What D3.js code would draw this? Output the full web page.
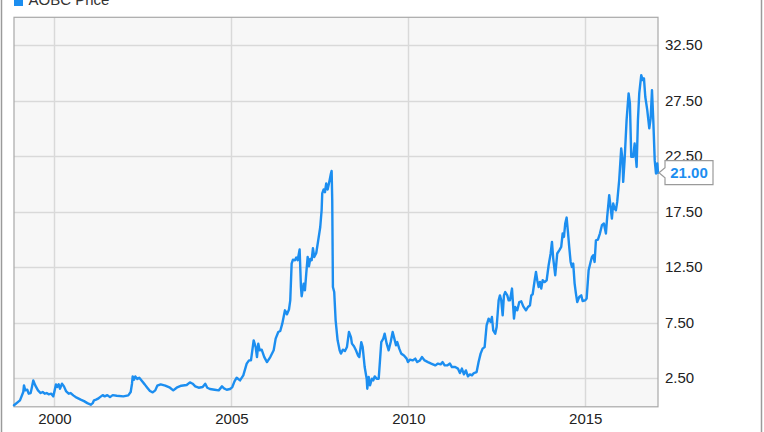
<!DOCTYPE html>
<html><head><meta charset="utf-8">
<script src="https://cdn.jsdelivr.net/npm/d3@7"></script>
<style>
html,body{margin:0;padding:0;background:#fff;}
svg{display:block;font-family:"Liberation Sans",Arial,sans-serif;}
</style></head>
<body>
<svg id="chart" width="764" height="432"></svg>
<script>
// Decimal-year dates and AOBC closing prices (USD)
const years = [1998.856,1999.025,1999.118,1999.138,1999.175,1999.231,1999.271,1999.327,1999.364,1999.401,1999.457,1999.534,1999.610,1999.667,1999.723,1999.780,1999.836,1999.910,1999.966,2000.006,2000.042,2000.079,2000.119,2000.155,2000.212,2000.268,2000.325,2000.401,2000.458,2000.531,2000.627,2000.740,2000.834,2000.927,2001.023,2001.079,2001.116,2001.173,2001.229,2001.286,2001.362,2001.418,2001.492,2001.568,2001.645,2001.758,2001.944,2002.085,2002.153,2002.190,2002.210,2002.246,2002.283,2002.340,2002.396,2002.472,2002.549,2002.622,2002.698,2002.775,2002.848,2002.905,2003.001,2003.131,2003.264,2003.357,2003.453,2003.583,2003.736,2003.829,2003.905,2003.979,2004.075,2004.188,2004.261,2004.318,2004.394,2004.527,2004.640,2004.733,2004.790,2004.866,2004.959,2005.024,2005.086,2005.148,2005.242,2005.335,2005.431,2005.496,2005.552,2005.628,2005.685,2005.722,2005.759,2005.798,2005.855,2005.928,2006.005,2006.098,2006.194,2006.250,2006.324,2006.380,2006.437,2006.513,2006.570,2006.626,2006.663,2006.702,2006.739,2006.796,2006.832,2006.872,2006.928,2006.965,2006.985,2007.041,2007.078,2007.115,2007.155,2007.191,2007.228,2007.268,2007.304,2007.341,2007.398,2007.454,2007.511,2007.550,2007.567,2007.607,2007.644,2007.680,2007.720,2007.776,2007.813,2007.833,2007.850,2007.869,2007.906,2007.946,2008.002,2008.059,2008.095,2008.152,2008.209,2008.265,2008.322,2008.378,2008.406,2008.463,2008.519,2008.576,2008.613,2008.669,2008.709,2008.765,2008.822,2008.839,2008.878,2008.915,2008.971,2009.008,2009.048,2009.104,2009.161,2009.198,2009.234,2009.291,2009.330,2009.387,2009.443,2009.500,2009.556,2009.593,2009.650,2009.686,2009.743,2009.799,2009.876,2009.952,2009.989,2010.045,2010.121,2010.195,2010.251,2010.327,2010.384,2010.460,2010.554,2010.647,2010.760,2010.836,2010.913,2010.969,2011.026,2011.099,2011.175,2011.232,2011.325,2011.401,2011.458,2011.514,2011.571,2011.627,2011.684,2011.740,2011.797,2011.853,2011.930,2011.986,2012.043,2012.099,2012.156,2012.212,2012.269,2012.325,2012.362,2012.399,2012.455,2012.495,2012.552,2012.588,2012.625,2012.665,2012.701,2012.738,2012.795,2012.834,2012.871,2012.928,2012.984,2013.021,2013.077,2013.134,2013.190,2013.247,2013.323,2013.379,2013.436,2013.473,2013.512,2013.569,2013.606,2013.642,2013.682,2013.719,2013.755,2013.795,2013.851,2013.908,2013.964,2014.021,2014.058,2014.094,2014.151,2014.207,2014.264,2014.320,2014.360,2014.397,2014.433,2014.473,2014.510,2014.546,2014.586,2014.623,2014.659,2014.699,2014.736,2014.773,2014.829,2014.886,2014.925,2014.999,2015.038,2015.095,2015.151,2015.188,2015.225,2015.264,2015.301,2015.358,2015.414,2015.471,2015.527,2015.584,2015.620,2015.677,2015.716,2015.753,2015.790,2015.829,2015.866,2015.903,2015.959,2016.016,2016.055,2016.072,2016.112,2016.168,2016.225,2016.262,2016.299,2016.355,2016.395,2016.451,2016.488,2016.525,2016.581,2016.621,2016.658,2016.695,2016.751,2016.808,2016.847,2016.884,2016.921,2016.961,2016.997,2017.034,2017.054];
const prices = [0.05,0.49,1.24,1.84,1.39,1.45,1.09,1.15,1.69,2.29,1.84,1.39,1.15,1.24,1.09,1.15,1.03,1.09,0.85,1.39,1.93,1.69,1.93,1.54,1.99,1.75,1.33,1.09,1.15,0.94,0.73,0.55,0.42,0.24,0.10,0.24,0.49,0.55,0.64,0.78,0.96,0.85,0.96,0.78,0.96,0.91,0.85,0.94,1.24,1.99,2.65,2.35,2.65,2.41,2.53,2.23,1.93,1.63,1.33,1.21,1.39,1.81,1.93,1.81,1.63,1.39,1.63,1.81,1.87,2.11,1.99,1.75,1.63,1.69,1.99,1.63,1.51,1.45,1.39,1.75,1.57,1.45,1.51,1.69,2.20,2.53,2.29,2.74,3.80,4.09,4.09,5.89,5.29,4.39,5.60,5.00,5.06,4.39,3.94,4.39,5.00,6.05,6.65,6.74,7.40,8.60,8.24,8.67,9.50,12.81,13.17,13.11,13.35,13.11,14.08,10.70,9.87,11.01,10.41,11.91,13.41,12.57,13.23,13.11,14.19,13.41,13.77,14.91,16.11,17.62,19.13,19.49,19.24,20.03,19.49,20.32,20.93,21.16,18.52,10.70,10.25,7.70,5.90,5.00,4.70,5.06,4.93,5.29,6.65,6.19,5.60,5.36,5.00,4.54,4.39,5.74,5.29,3.49,2.44,1.54,2.59,1.84,2.44,2.29,2.65,2.44,2.44,4.09,5.74,6.05,6.50,5.60,5.00,5.74,6.65,6.19,5.45,5.74,5.15,4.70,4.54,4.25,3.94,4.16,4.09,4.25,3.94,4.09,4.39,4.09,3.94,3.80,3.64,3.80,3.73,3.94,3.64,3.64,3.80,3.49,3.49,3.35,2.95,3.35,2.83,3.19,2.65,2.83,2.74,2.95,3.04,3.94,4.70,5.15,5.29,7.25,7.85,7.55,8.00,6.80,6.50,7.10,9.50,9.95,9.50,8.15,9.95,10.25,9.95,9.50,9.50,10.56,7.85,8.90,8.60,9.35,9.41,8.96,8.60,8.90,9.05,9.95,10.05,11.31,12.06,11.31,10.70,11.15,10.56,11.31,11.15,11.31,12.66,13.72,14.76,13.26,11.76,13.72,14.01,14.31,15.52,15.21,16.42,16.96,15.66,14.31,12.96,12.51,12.81,11.01,10.11,9.35,9.80,9.95,9.44,9.50,9.66,12.21,12.96,13.41,13.56,12.96,14.91,14.98,15.52,16.27,16.42,15.52,17.02,18.97,17.92,16.87,18.22,17.77,17.62,18.37,20.32,23.18,22.13,20.17,22.13,25.74,28.14,27.24,22.43,22.43,23.63,21.52,25.74,28.14,29.79,29.34,29.50,27.84,26.64,24.99,25.89,28.44,25.74,22.13,20.93,21.83,21.00];
const xTickYears = [2000, 2005, 2010, 2015];
const yTicks = [2.5, 7.5, 12.5, 17.5, 22.5, 27.5, 32.5];
const yDomain = [0, 35];
const seriesName = "AOBC Price";
const lastLabel = "21.00";

function decToDate(y){
  const yr = Math.floor(y);
  const s = Date.UTC(yr,0,1), e = Date.UTC(yr+1,0,1);
  return new Date(s + (y - yr) * (e - s));
}
const data = years.map((y,i)=>({date: decToDate(y), value: prices[i]}));

const svg = d3.select("#chart");
const L = 14, R = 658, T = 17.3, B = 405.8;
const blue = "#1c8ef0";

const x = d3.scaleUtc().domain(d3.extent(data, d=>d.date)).range([L, R]);
const y = d3.scaleLinear().domain(yDomain).range([B, T]);

// outer frame lines
svg.append("line").attr("x1",1.5).attr("x2",1.5).attr("y1",0).attr("y2",432).attr("stroke","#9a9a9a").attr("stroke-width",1.5);
svg.append("line").attr("x1",761.5).attr("x2",761.5).attr("y1",0).attr("y2",432).attr("stroke","#9a9a9a").attr("stroke-width",1.5);

// plot background
svg.append("rect").attr("x",L).attr("y",T).attr("width",R-L).attr("height",B-T+1)
  .attr("fill","#f7f7f7");

// gridlines
const xTickDates = xTickYears.map(yr=>new Date(Date.UTC(yr,0,1)));
svg.append("g").selectAll("line").data(yTicks).join("line")
  .attr("x1",L).attr("x2",R).attr("y1",d=>Math.round(y(d))+0.5).attr("y2",d=>Math.round(y(d))+0.5)
  .attr("stroke","#d9d9d9").attr("stroke-width",1.5);
svg.append("g").selectAll("line").data(xTickDates).join("line")
  .attr("y1",T).attr("y2",B+1).attr("x1",d=>Math.round(x(d))+0.5).attr("x2",d=>Math.round(x(d))+0.5)
  .attr("stroke","#d9d9d9").attr("stroke-width",1.5);

// border
svg.append("rect").attr("x",L).attr("y",T).attr("width",R-L).attr("height",B-T+1)
  .attr("fill","none").attr("stroke","#a8a8a8").attr("stroke-width",1.2);

// line
const line = d3.line().x(d=>x(d.date)).y(d=>y(d.value));
svg.append("path").datum(data).attr("d",line)
  .attr("fill","none").attr("stroke",blue).attr("stroke-width",2.4)
  .attr("stroke-linejoin","round").attr("stroke-linecap","round");

// axes
const yAxis = d3.axisRight(y).tickValues(yTicks).tickFormat(d3.format(".2f")).tickSize(0).tickPadding(7);
const gy = svg.append("g").attr("transform",`translate(${R},0)`).call(yAxis);
gy.select(".domain").remove();
gy.selectAll("text").attr("font-size",15).attr("fill","#222").attr("font-family","Liberation Sans, Arial, sans-serif");

const xAxis = d3.axisBottom(x).tickValues(xTickDates).tickFormat(d3.utcFormat("%Y")).tickSize(0).tickPadding(8);
const gx = svg.append("g").attr("transform",`translate(0,${B})`).call(xAxis);
gx.select(".domain").remove();
gx.selectAll("text").attr("font-size",15).attr("fill","#222").attr("font-family","Liberation Sans, Arial, sans-serif");

// last value callout
const last = data[data.length-1];
const ly = y(last.value), lx = x(last.date);
const bx = lx + 7, bw = 48, bh = 24;
svg.append("path")
  .attr("d",`M${bx},${ly-bh/2} H${bx+bw} V${ly+bh/2} H${bx} V${ly+5} L${lx+1},${ly} L${bx},${ly-5} Z`)
  .attr("fill","#fff").attr("stroke","#9a9a9a").attr("stroke-width",1.2);
svg.append("text").attr("x",bx+bw/2).attr("y",ly+5.5).attr("text-anchor","middle")
  .attr("font-size",15).attr("font-weight","bold").attr("fill",blue).text(lastLabel);

// legend (cut off at the top edge, as in the reference)
svg.append("rect").attr("x",14).attr("y",-3).attr("width",9).attr("height",9).attr("fill",blue);
svg.append("text").attr("x",28.5).attr("y",5).attr("font-size",15).attr("fill","#333").text(seriesName);
</script>
</body></html>
